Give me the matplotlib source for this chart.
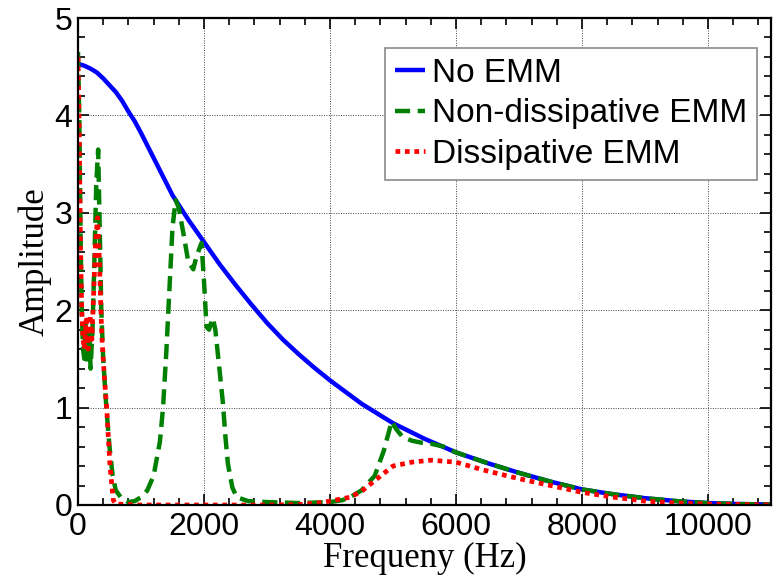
import matplotlib
matplotlib.use("Agg")
import matplotlib.pyplot as plt
from matplotlib.ticker import MultipleLocator

# ---- data ----
no_emm_f = [0, 100, 200, 300, 400, 500, 600, 700, 800, 900, 1000, 1250, 1500, 1750, 2000, 2250,
            2500, 2750, 3000, 3250, 3500, 3750, 4000, 4250, 4500, 4750, 5000, 5250, 5500,
            5750, 6000, 6500, 7000, 7500, 8000, 8500, 9000, 9500, 10000, 10500, 11000]
no_emm_a = [4.53, 4.51, 4.48, 4.44, 4.38, 4.31, 4.24, 4.15, 4.04, 3.94, 3.82, 3.50, 3.18, 2.93,
            2.70, 2.47, 2.26, 2.06, 1.87, 1.70, 1.55, 1.41, 1.28, 1.16, 1.04, 0.94, 0.84,
            0.76, 0.68, 0.61, 0.54, 0.43, 0.33, 0.24, 0.16, 0.11, 0.07, 0.04, 0.02, 0.01,
            0.005]

nondiss_f = [0, 20, 40, 60, 80, 100, 120, 150, 180, 200, 230, 260, 290, 320, 340, 370,
             400, 450, 500, 550, 600, 700, 800, 900, 1000, 1100, 1200, 1300, 1350, 1400,
             1450, 1500, 1550, 1600, 1670, 1750, 1830, 1880, 1960, 2000, 2040, 2080,
             2140, 2180, 2220, 2260, 2300, 2340, 2380, 2450, 2520, 2700, 3000, 3500,
             4000, 4200, 4320, 4500, 4710, 4850, 4980, 5050, 5150, 5300, 5450, 5600,
             5800, 6000, 6500, 7000, 7500, 8000, 8500, 9000, 9500, 10000, 10500, 11000]
nondiss_a = [4.65, 4.0, 2.8, 2.0, 1.6, 1.5, 1.85, 1.45, 1.75, 1.4, 1.8, 2.5, 3.3, 3.65, 3.0, 2.0,
             1.5, 1.0, 0.6, 0.3, 0.15, 0.06, 0.03, 0.04, 0.08, 0.15, 0.3, 0.65, 1.0, 1.55,
             2.2, 2.85, 3.13, 3.05, 2.8, 2.5, 2.42, 2.55, 2.69, 2.3, 1.83, 1.8,
             1.92, 1.8, 1.55, 1.3, 1.05, 0.7, 0.42, 0.18, 0.08, 0.04, 0.03, 0.02,
             0.03, 0.05, 0.08, 0.15, 0.3, 0.55, 0.86, 0.78, 0.7, 0.66, 0.64, 0.63,
             0.6, 0.54, 0.43, 0.33, 0.24, 0.16, 0.11, 0.07, 0.04, 0.02, 0.01, 0.005]

diss_f = [0, 20, 40, 60, 80, 100, 130, 160, 190, 220, 250, 280, 310, 340, 376, 420, 455,
          508, 560, 600, 1000, 2000, 3000, 3500, 3800, 4000, 4320, 4500, 4710, 5000,
          5300, 5600, 6000, 6430, 7000, 7500, 8000, 8500, 9000, 9500, 10000, 11000]
diss_a = [4.6, 3.8, 2.6, 2.0, 1.7, 1.6, 1.9, 1.6, 1.95, 1.7, 2.2, 2.7, 2.95, 2.5, 1.76, 1.3, 1.0,
          0.4, 0.05, 0.01, 0.0, 0.0, 0.0, 0.005, 0.02, 0.04, 0.08, 0.14, 0.25, 0.4,
          0.44, 0.46, 0.44, 0.36, 0.27, 0.2, 0.13, 0.08, 0.04, 0.02, 0.01, 0.0]

labels = ["No EMM", "Non-dissipative EMM", "Dissipative EMM"]
x_ticks = [0, 2000, 4000, 6000, 8000, 10000]
y_ticks = [0, 1, 2, 3, 4, 5]

# ---- plot ----
fig = plt.figure(figsize=(7.84, 5.79), dpi=100)
ax = fig.add_axes([78/784, 1-505/579, (771-78)/784, (505-18)/579])

ax.plot(no_emm_f, no_emm_a, color="#0000ff", lw=3.2, solid_capstyle="butt", label=labels[0])
ax.plot(nondiss_f, nondiss_a, color="#008000", lw=3.2, dashes=(3.4, 1.7),
        dash_capstyle="butt", label=labels[1])
ax.plot(diss_f, diss_a, color="#ff0000", lw=3.4, dashes=(1.0, 1.0),
        dash_capstyle="butt", label=labels[2])

ax.set_xlim(0, 11000)
ax.set_ylim(0, 5)
ax.set_xticks(x_ticks)
ax.set_yticks(y_ticks)
ax.xaxis.set_minor_locator(MultipleLocator(400))
ax.yaxis.set_minor_locator(MultipleLocator(0.2))
ax.grid(True, which="major", color="#444444", linestyle=(0, (1, 1.5)), linewidth=0.7)
ax.tick_params(which="both", direction="in", top=True, right=True, width=1.2)
ax.tick_params(which="major", length=8)
ax.tick_params(which="minor", length=5)
ax.tick_params(axis="x", pad=5)
ax.tick_params(axis="y", pad=4)
for lab in ax.get_xticklabels() + ax.get_yticklabels():
    lab.set_fontfamily("Liberation Sans")
    lab.set_fontsize(23)
for sp in ax.spines.values():
    sp.set_linewidth(1.6)
    sp.set_color("black")

ax.set_xlabel("Frequeny (Hz)", family="Liberation Serif", fontsize=25, labelpad=0)
ax.set_ylabel("Amplitude", family="Liberation Serif", fontsize=25, labelpad=2)

leg = ax.legend(loc="upper right", bbox_to_anchor=(757/784, 1-48/579),
                bbox_transform=fig.transFigure,
                prop={"family": "Liberation Sans", "size": 24},
                handlelength=0.9, handletextpad=0.2, labelspacing=0.28,
                borderpad=0.3, borderaxespad=0, fancybox=False, framealpha=1)
leg.get_frame().set_edgecolor("#8a8a8a")
leg.get_frame().set_linewidth(1.2)

fig.savefig("out.png", dpi=100)
